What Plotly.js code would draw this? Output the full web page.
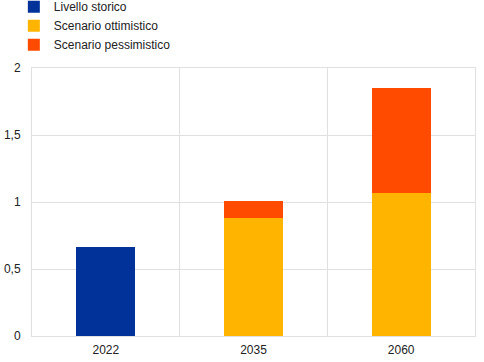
<!DOCTYPE html>
<html>
<head>
<meta charset="utf-8">
<script src="https://cdn.plot.ly/plotly-3.0.1.min.js"></script>
<style>html,body{margin:0;padding:0;background:#fff}#chart{width:484px;height:362px}</style>
</head>
<body>
<div id="chart"></div>
<script>
const categories = ["2022", "2035", "2060"];
const livelloStorico = [0.665, null, null];
const scenarioOttimistico = [null, 0.88, 1.065];
const scenarioPessimisticoExtra = [null, 0.13, 0.785];
const yTickVals = [0, 0.5, 1, 1.5, 2];
const yTickText = ["0", "0,5", "1", "1,5", "2"];

const traces = [
  {type: "bar", name: "Livello storico", x: categories, y: livelloStorico, marker: {color: "#003299"}},
  {type: "bar", name: "Scenario ottimistico", x: categories, y: scenarioOttimistico, marker: {color: "#FFB400"}},
  {type: "bar", name: "Scenario pessimistico", x: categories, y: scenarioPessimisticoExtra, marker: {color: "#FF4B00"}}
];

const layout = {
  width: 484, height: 362,
  margin: {l: 32, r: 9, t: 68, b: 26, autoexpand: false},
  barmode: "stack",
  bargap: 0.6,
  font: {family: "Liberation Sans, Arial, sans-serif", size: 12, color: "#222"},
  paper_bgcolor: "#fff", plot_bgcolor: "#fff",
  showlegend: true,
  legend: {x: -0.041, y: 1.283, xanchor: "left", yanchor: "top", traceorder: "normal",
           font: {size: 12, color: "#222"}, itemwidth: 30, tracegroupgap: 0, bgcolor: "rgba(0,0,0,0)"},
  xaxis: {type: "category", tickson: "boundaries", showgrid: true, gridcolor: "#e0e0e0", gridwidth: 1,
          showline: true, linecolor: "#e0e0e0", mirror: true, ticks: "", ticklabelstandoff: 3, tickfont: {size: 12}},
  yaxis: {range: [0, 2], tickvals: yTickVals, ticktext: yTickText, showgrid: true, gridcolor: "#e0e0e0",
          showline: true, linecolor: "#e0e0e0", mirror: true, zeroline: false, ticks: "", ticklen: 0,
          ticklabelstandoff: 8, tickfont: {size: 12}}
};

Plotly.newPlot("chart", traces, layout, {displayModeBar: false, staticPlot: true});
</script>
</body>
</html>
